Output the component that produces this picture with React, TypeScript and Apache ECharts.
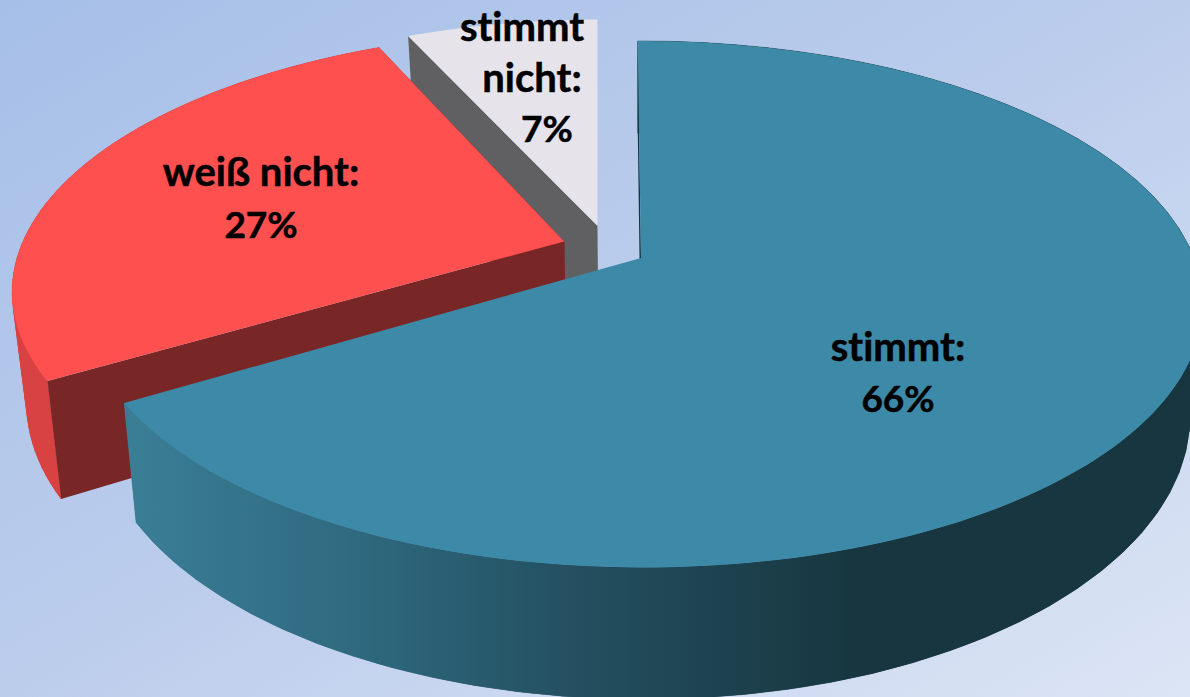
import React, { useEffect, useRef } from "react";
import * as echarts from "echarts";

const sliceNames = ["stimmt", "weiß nicht", "stimmt nicht"];
const sliceValues = [66, 27, 7];
const labelLines = [["stimmt:", "66%"], ["weiß nicht:", "27%"], ["stimmt", "nicht:", "7%"]];
const topColors = ["#3d8aa8", "#ff5050", "#e6e4ea"];
const edgeColors = ["#17363f", "#792626", "#606062"];
const rimColors = ["", "#d94242", ""];

// scene layout (not data)
const APEX_X = 641, APEX_Y = 258, R = 553, DEPTH = 255.3, K = 0.1765, DROP = 108.6, SHRINK = 0.977;
const ROTATE = -0.4;
const explodeBy = [0, 0.155, 0.152];
const explodeDir = [0, 295, 328];
const radiusScale = [1, 0.99, 0.99];
const startShift = [0, 1.8, 0.7];
const endShift = [1.5, 0.9, -0.4];
const labelPos = [
  [[898, 346], [898, 397]],
  [[261, 171], [261, 223]],
  [[522, 26], [532, 77], [547, 127]],
];

const rad = (d: number) => (d * Math.PI) / 180;
function project(u: number, v: number, low: boolean): number[] {
  const d = 1 - K * v;
  const s = low ? SHRINK : 1;
  return [APEX_X + (R * u * s) / d, APEX_Y + (DEPTH * v + (low ? DROP : 0)) / d];
}

export default function App() {
  const ref = useRef<HTMLDivElement>(null);
  useEffect(() => {
    document.body.style.margin = "0";
    const chart = echarts.init(ref.current!, undefined, { renderer: "svg" });
    const total = sliceValues.reduce((a, b) => a + b, 0);
    const starts: number[] = [];
    sliceValues.reduce((acc, v, i) => { starts[i] = acc; return acc + v; }, 0);

    const renderItem = (params: any, api: any) => {
      const i = params.dataIndex;
      const base = (starts[i] / total) * 360 + ROTATE;
      const a0 = base + startShift[i];
      const a1 = base + (api.value(1) / total) * 360 + endShift[i];
      const ox = explodeBy[i] * Math.sin(rad(explodeDir[i]));
      const oy = -explodeBy[i] * Math.cos(rad(explodeDir[i]));
      const rs = radiusScale[i];
      const arcW: number[][] = [];
      for (let k = 0; k <= 180; k++) {
        const d = a0 + ((a1 - a0) * k) / 180;
        // the blue slice tapers very slightly towards its far left end
        const taper = i === 0 ? 1 - 0.006 * Math.max(0, (k - 120) / 60) : 1;
        arcW.push([ox + rs * taper * Math.sin(rad(d)), oy - rs * taper * Math.cos(rad(d))]);
      }
      const top = arcW.map((p) => project(p[0], p[1], false));
      const low = arcW.map((p) => project(p[0], p[1], true));
      const cTop = project(ox, oy, false);
      const cLow = project(ox, oy, true);
      const children: any[] = [];
      const wall = i === 0
        ? new echarts.graphic.LinearGradient(130, 0, 860, 0, [
            { offset: 0, color: "#3a7e96" },
            { offset: 0.3, color: "#2f6a80" },
            { offset: 0.6, color: "#245061" },
            { offset: 1, color: "#17363f" },
          ], true)
        : rimColors[i];
      if (wall) {
        children.push({ type: "polygon", shape: { points: [...top, ...low.slice().reverse()] }, style: { fill: wall } });
        for (let k = 0; k < 180; k += 3) {
          const m = k + 3;
          children.push({
            type: "polygon",
            shape: { points: [top[k], top[m], low[m], low[k]] },
            style: { fill: wall, stroke: wall, lineWidth: 0.5 },
          });
        }
      }
      children.push({ type: "polygon", shape: { points: [cTop, top[0], low[0], cLow] }, style: { fill: edgeColors[i] } });
      if (i === 1) children.push({ type: "polygon", shape: { points: [cTop, top[180], low[180], cLow] }, style: { fill: edgeColors[i] } });
      children.push({ type: "polygon", shape: { points: [cTop, ...top] }, style: { fill: topColors[i] } });
      labelLines[i].forEach((line, n) => {
        const size = line.endsWith("%") ? 37 : 40;
        children.push({
          type: "text", z2: 10,
          style: {
            x: labelPos[i][n][0], y: labelPos[i][n][1], text: line, fill: "#000",
            stroke: "#000", lineWidth: 0.5,
            font: `bold ${size}px Lato`, align: "center", verticalAlign: "middle",
          },
        });
      });
      return { type: "group", children };
    };

    // paint order: back to front
    const order = [2, 1, 0];
    chart.setOption({
      animation: false,
      backgroundColor: new echarts.graphic.LinearGradient(0, 0, 1, 1, [
        { offset: 0, color: "#a6bfe8" },
        { offset: 0.5, color: "#bccdec" },
        { offset: 1, color: "#dce5f5" },
      ]),
      series: order.map((idx) => ({
        type: "custom",
        coordinateSystem: "none",
        silent: true,
        renderItem: (p: any, api: any) => renderItem({ ...p, dataIndex: idx }, api),
        data: [{ name: sliceNames[idx], value: [idx, sliceValues[idx]] }],
      })),
    });
    return () => chart.dispose();
  }, []);
  return (
    <>
      <style>{"svg text { font-variant-ligatures: none !important; }"}</style>
      <div ref={ref} style={{ width: 1190, height: 697 }} />
    </>
  );
}
